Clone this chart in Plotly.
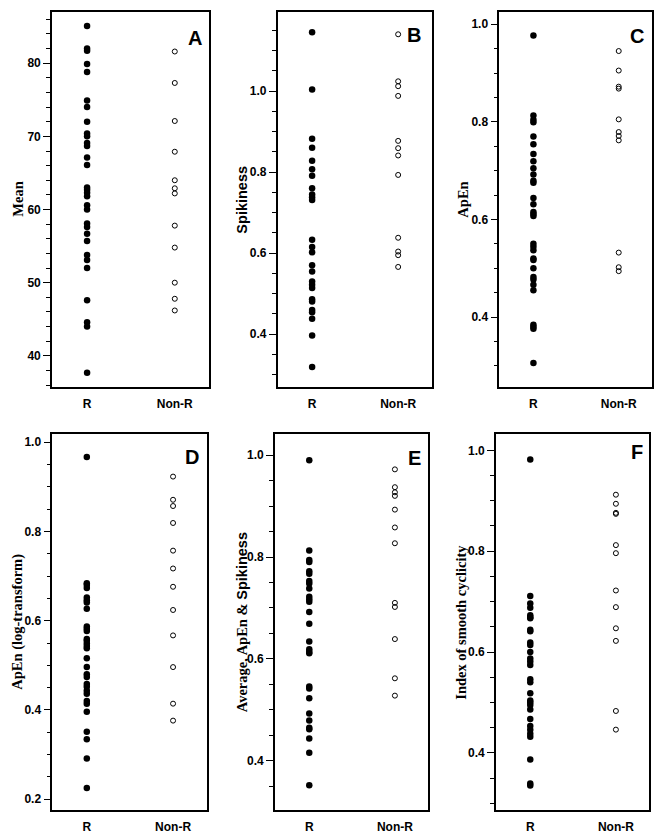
import plotly.graph_objects as go

# ---------------- data ----------------
groups = ["R", "Non-R"]

mean_R = [85.1, 82.0, 81.7, 79.9, 78.8, 74.9, 74.0, 72.0, 70.4, 70.0, 69.1, 68.7, 67.1, 66.1,
          63.0, 62.7, 62.3, 61.8, 60.6, 60.0, 58.1, 57.6, 56.7, 55.7, 53.8, 53.1, 52.0,
          47.6, 44.6, 44.0, 37.7]
mean_NR = [81.6, 77.3, 72.1, 67.9, 64.0, 62.9, 62.2, 57.8, 54.8, 50.0, 47.8, 46.2]

spik_R = [1.145, 1.004, 0.882, 0.860, 0.828, 0.807, 0.791, 0.760, 0.745, 0.738, 0.731,
          0.633, 0.615, 0.602, 0.570, 0.555, 0.530, 0.522, 0.514, 0.486, 0.481, 0.460,
          0.454, 0.438, 0.397, 0.319]
spik_NR = [1.140, 1.024, 1.012, 0.988, 0.877, 0.859, 0.841, 0.793, 0.638, 0.604, 0.595, 0.566]

apen_R = [0.977, 0.813, 0.804, 0.799, 0.770, 0.754, 0.734, 0.719, 0.705, 0.692, 0.679, 0.675,
          0.644, 0.631, 0.615, 0.611, 0.607, 0.550, 0.544, 0.537, 0.520, 0.517, 0.500,
          0.482, 0.477, 0.466, 0.455, 0.384, 0.380, 0.376, 0.306]
apen_NR = [0.945, 0.905, 0.872, 0.868, 0.805, 0.779, 0.771, 0.762, 0.532, 0.502, 0.494]

logapen_R = [0.967, 0.684, 0.680, 0.673, 0.652, 0.646, 0.641, 0.627, 0.587, 0.582, 0.577,
             0.559, 0.555, 0.549, 0.543, 0.538, 0.516, 0.496, 0.480, 0.474, 0.458, 0.452,
             0.443, 0.436, 0.420, 0.414, 0.396, 0.351, 0.334, 0.291, 0.225]
logapen_NR = [0.923, 0.871, 0.857, 0.819, 0.757, 0.717, 0.676, 0.624, 0.567, 0.496, 0.414, 0.376]

avg_R = [0.990, 0.813, 0.794, 0.790, 0.772, 0.767, 0.753, 0.748, 0.738, 0.722, 0.717, 0.712,
         0.692, 0.669, 0.634, 0.619, 0.614, 0.611, 0.546, 0.542, 0.523, 0.493, 0.479,
         0.465, 0.462, 0.444, 0.416, 0.352]
avg_NR = [0.972, 0.937, 0.927, 0.920, 0.893, 0.858, 0.827, 0.710, 0.702, 0.639, 0.562, 0.528]

cyc_R = [0.982, 0.711, 0.696, 0.688, 0.673, 0.669, 0.667, 0.644, 0.641, 0.619, 0.614, 0.600,
         0.587, 0.581, 0.574, 0.546, 0.540, 0.518, 0.504, 0.500, 0.495, 0.486, 0.467,
         0.453, 0.446, 0.438, 0.432, 0.387, 0.339, 0.335]
cyc_NR = [0.912, 0.894, 0.876, 0.874, 0.812, 0.796, 0.722, 0.689, 0.647, 0.622, 0.483, 0.446]

panel_letters = ["A", "B", "C", "D", "E", "F"]
y_titles = [
    "Mean",
    "Spikiness",
    "ApEn",
    "ApEn (log-transform)",
    "Average, ApEn & <span style='font-family:Liberation Sans, Arial, sans-serif'>Spikiness</span>",
    "Index of smooth cyclicity",
]
title_serif = [True, False, True, True, True, True]
y_ranges = [[35.7, 87.0], [0.269, 1.195], [0.256, 1.025],
            [0.175, 1.018], [0.303, 1.041], [0.286, 1.032]]
y_dticks = [10, 0.2, 0.2, 0.2, 0.2, 0.2]
y_minor = [2, 0.05, 0.05, 0.05, 0.05, 0.05]
y_formats = ["d", ".1f", ".1f", ".1f", ".1f", ".1f"]

series = [(mean_R, mean_NR), (spik_R, spik_NR), (apen_R, apen_NR),
          (logapen_R, logapen_NR), (avg_R, avg_NR), (cyc_R, cyc_NR)]

# ---------------- layout geometry (page pixels) ----------------
OFF = 8                      # default page body margin
W, H = 663 - OFF, 838 - OFF  # figure size so it fits the window
x_px = [(52, 209), (277.7, 431.7), (499.3, 652), (52.3, 206.7), (275, 428.3), (496, 649.3)]
y_px = [(12, 387.3)] * 3 + [(434.2, 810.3)] * 3
title_x_px = [18, 242, 463, 17.5, 242, 461.5]
letter_px = [(195, 38.3), (414.3, 35), (637.3, 36), (192.3, 456.7), (415, 458.3), (636.7, 452.3)]


def fx(p):
    return (p - OFF) / W


def fy(p):
    return 1 - (p - OFF) / H


sans = "Liberation Sans, Arial, Helvetica, sans-serif"
serif = "Liberation Serif, Times New Roman, serif"

fig = go.Figure()
layout = dict(
    width=W, height=H,
    margin=dict(l=0, r=0, t=0, b=0),
    paper_bgcolor="white", plot_bgcolor="white",
    showlegend=False,
    annotations=[],
)

for i in range(6):
    n = "" if i == 0 else str(i + 1)
    r_vals, nr_vals = series[i]
    fig.add_trace(go.Scatter(
        x=[groups[0]] * len(r_vals), y=r_vals, mode="markers",
        marker=dict(symbol="circle", size=6.5, color="black", line=dict(width=0)),
        xaxis="x" + n, yaxis="y" + n, cliponaxis=False,
    ))
    fig.add_trace(go.Scatter(
        x=[groups[1]] * len(nr_vals), y=nr_vals, mode="markers",
        marker=dict(symbol="circle-open", size=5, color="black", line=dict(width=1)),
        xaxis="x" + n, yaxis="y" + n, cliponaxis=False,
    ))
    x0, x1 = x_px[i]
    yt, yb = y_px[i]
    layout["xaxis" + n] = dict(
        domain=[fx(x0), fx(x1)], anchor="y" + n,
        type="category", categoryorder="array", categoryarray=groups,
        range=[-0.4, 1.39],
        showline=True, linecolor="black", linewidth=1.6, mirror=True,
        ticks="", showgrid=False, zeroline=False,
        tickfont=dict(family=sans, size=12, color="black", weight="bold"),
        ticklabelstandoff=4,
    )
    layout["yaxis" + n] = dict(
        domain=[fy(yb), fy(yt)], anchor="x" + n,
        range=y_ranges[i], tick0=0, dtick=y_dticks[i], tickformat=y_formats[i],
        showline=True, linecolor="black", linewidth=1.6, mirror=True,
        ticks="outside", ticklen=7, tickwidth=1.2, tickcolor="black",
        minor=dict(dtick=y_minor[i], tick0=0, ticks="outside", ticklen=4,
                   tickwidth=1, tickcolor="black", showgrid=False),
        showgrid=False, zeroline=False,
        tickfont=dict(family=sans, size=12, color="black", weight="bold"),
    )
    # y-axis title
    layout["annotations"].append(dict(
        text=y_titles[i], textangle=-90, showarrow=False,
        xref="paper", yref="paper",
        x=fx(title_x_px[i]), y=fy((yt + yb) / 2),
        xanchor="center", yanchor="middle",
        font=dict(family=serif if title_serif[i] else sans, size=14.5,
                  color="black", weight="bold"),
    ))
    # panel letter
    lx, ly = letter_px[i]
    layout["annotations"].append(dict(
        text=panel_letters[i], showarrow=False,
        xref="paper", yref="paper",
        x=fx(lx), y=fy(ly), xanchor="center", yanchor="middle",
        font=dict(family=sans, size=20, color="black", weight="bold"),
    ))

fig.update_layout(**layout)
fig.write_html("out.html")
